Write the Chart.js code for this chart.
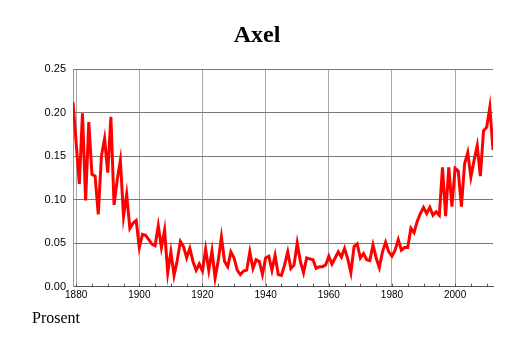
<!DOCTYPE html>
<html>
<head>
<meta charset="utf-8">
<script src="https://cdn.jsdelivr.net/npm/chart.js@4"></script>
<style>
  html, body { margin: 0; padding: 0; background: #fff; }
  #wrap { position: relative; width: 514px; height: 343px; }
</style>
</head>
<body>
<div id="wrap"><canvas id="c" width="514" height="343"></canvas></div>
<script>
const chartTitle = "Axel";
const yAxisNote = "Prosent";
const firstYear = 1879;
const lastYear = 2012;
const values = [
  0.212, 0.165, 0.118, 0.199, 0.099, 0.189, 0.129, 0.127, 0.083, 0.150,
  0.170, 0.131, 0.195, 0.094, 0.123, 0.145, 0.081, 0.106, 0.067, 0.073,
  0.076, 0.045, 0.060, 0.059, 0.054, 0.049, 0.047, 0.070, 0.045, 0.065,
  0.016, 0.040, 0.013, 0.030, 0.052, 0.046, 0.033, 0.044, 0.029, 0.019,
  0.026, 0.018, 0.043, 0.019, 0.041, 0.010, 0.030, 0.057, 0.029, 0.023,
  0.040, 0.033, 0.019, 0.014, 0.018, 0.019, 0.040, 0.021, 0.031, 0.029,
  0.014, 0.033, 0.035, 0.019, 0.036, 0.014, 0.013, 0.025, 0.040, 0.021,
  0.025, 0.050, 0.029, 0.016, 0.033, 0.032, 0.031, 0.021, 0.023, 0.023,
  0.025, 0.035, 0.026, 0.033, 0.040, 0.034, 0.044, 0.032, 0.016, 0.046,
  0.049, 0.033, 0.038, 0.031, 0.030, 0.048, 0.033, 0.022, 0.040, 0.051,
  0.040, 0.035, 0.042, 0.054, 0.042, 0.045, 0.045, 0.067, 0.062, 0.075,
  0.084, 0.091, 0.084, 0.091, 0.082, 0.086, 0.082, 0.137, 0.081, 0.137,
  0.092, 0.136, 0.133, 0.092, 0.141, 0.154, 0.126, 0.145, 0.162, 0.127,
  0.179, 0.183, 0.206, 0.157
];
const years = values.map((_, i) => firstYear + i);
const xTickLabels = [1880, 1900, 1920, 1940, 1960, 1980, 2000];
const xMinorTicks = [];
for (let y = 1880; y <= 2010; y += 5) xMinorTicks.push(y);
const yTicks = [0, 0.05, 0.10, 0.15, 0.20, 0.25];

const points = years.map((yr, i) => ({ x: yr, y: values[i] }));

const decor = {
  id: 'decor',
  afterDraw(chart) {
    const ctx = chart.ctx;
    const xs = chart.scales.x;
    const area = chart.chartArea;
    ctx.save();
    ctx.strokeStyle = '#555';
    ctx.lineWidth = 1;
    xMinorTicks.forEach(v => {
      const px = Math.round(xs.getPixelForValue(v)) + 0.5;
      ctx.beginPath();
      ctx.moveTo(px, area.bottom);
      ctx.lineTo(px, area.bottom - 3);
      ctx.stroke();
    });
    ctx.fillStyle = '#000';
    ctx.textAlign = 'center';
    ctx.textBaseline = 'alphabetic';
    ctx.font = 'bold 24px "Liberation Serif"';
    ctx.fillText(chartTitle, 257, 41.5);
    ctx.textAlign = 'left';
    ctx.font = '16px "Liberation Serif"';
    ctx.fillText(yAxisNote, 32, 322.5);
    ctx.restore();
  }
};

new Chart(document.getElementById('c'), {
  type: 'line',
  data: {
    datasets: [{
      data: points,
      borderColor: '#ff0000',
      borderWidth: 3,
      pointRadius: 0,
      tension: 0,
      fill: false
    }]
  },
  options: {
    responsive: false,
    animation: false,
    devicePixelRatio: 1,
    layout: { padding: { left: 0, right: 21, top: 69, bottom: 0 } },
    plugins: { legend: { display: false }, tooltip: { enabled: false }, title: { display: false } },
    scales: {
      x: {
        type: 'linear',
        min: firstYear,
        max: lastYear,
        afterBuildTicks(scale) { scale.ticks = xTickLabels.map(v => ({ value: v })); },
        afterFit(scale) { scale.height = 56.3; },
        ticks: {
          autoSkip: false, maxRotation: 0, padding: 3,
          color: '#000',
          font: { family: '"Liberation Sans"', size: 10 },
          callback: v => String(v)
        },
        grid: { color: '#a8a8a8', drawTicks: false, lineWidth: 1 },
        border: { color: '#555', width: 1 }
      },
      y: {
        min: 0,
        max: 0.25,
        afterBuildTicks(scale) { scale.ticks = yTicks.map(v => ({ value: v })); },
        afterFit(scale) { scale.width = 73; },
        ticks: {
          padding: 7,
          color: '#000',
          font: { family: '"Liberation Sans"', size: 11 },
          callback: v => Number(v).toFixed(2)
        },
        grid: { color: '#777', drawTicks: false, lineWidth: 1 },
        border: { color: '#999', width: 1 }
      }
    }
  },
  plugins: [decor]
});
</script>
</body>
</html>
